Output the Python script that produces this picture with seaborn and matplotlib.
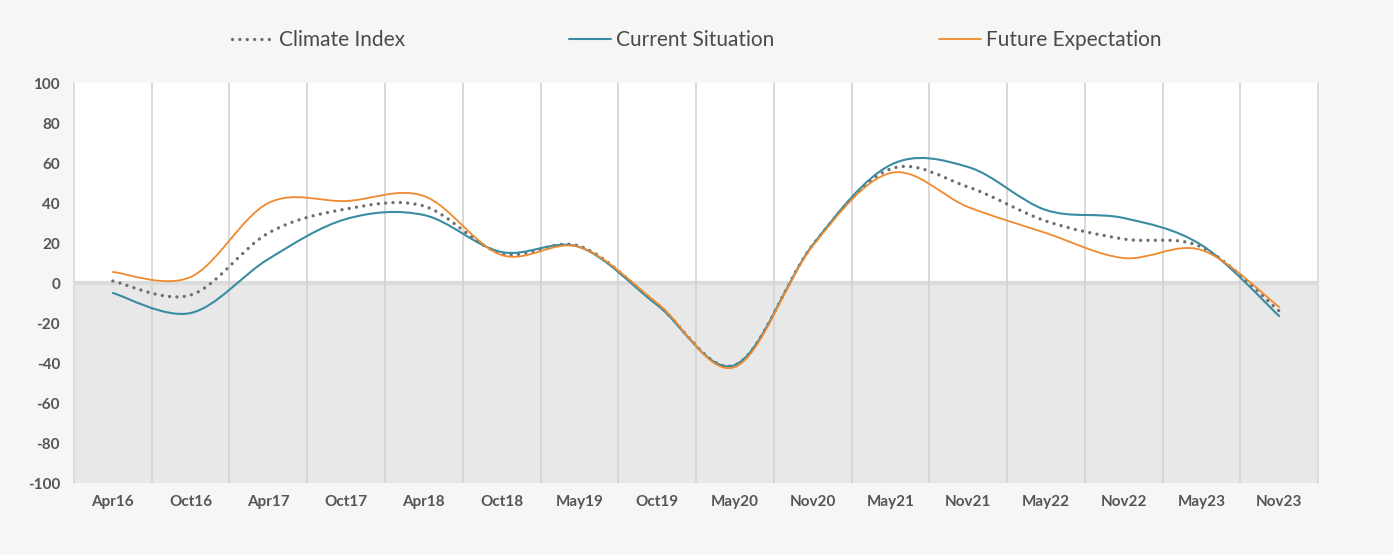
import numpy as np
import pandas as pd
import matplotlib.pyplot as plt
import seaborn as sns
from matplotlib.path import Path
from matplotlib.patches import PathPatch
from matplotlib.lines import Line2D

# survey waves and the three index series
months = ['Apr16', 'Oct16', 'Apr17', 'Oct17', 'Apr18', 'Oct18', 'May19', 'Oct19',
          'May20', 'Nov20', 'May21', 'Nov21', 'May22', 'Nov22', 'May23', 'Nov23']
climate_index = [1, -6, 25, 37, 38.5, 14.7, 18.5, -10.5, -41, 19, 57, 48, 31, 22, 18, -14]
current_situation = [-5, -15, 12, 32, 34, 15.5, 18, -11, -41, 19, 59, 58, 36.5, 32.5, 19, -16.5]
future_expectation = [5.5, 3, 40, 41, 43.5, 14, 18, -10, -42, 18.5, 55, 38, 25, 12.5, 16.5, -12]

y_ticks = list(range(-100, 101, 20))

sns.set_theme(style='white')
plt.rcParams['font.family'] = ['Lato', 'DejaVu Sans']
plt.rcParams['axes.unicode_minus'] = False

df = pd.DataFrame({
    'pos': range(len(months)),
    'Climate Index': climate_index,
    'Current Situation': current_situation,
    'Future Expectation': future_expectation,
})

series = [
    ('Climate Index', '#6e6e6e', 2.4, (0, (0.01, 2.2))),
    ('Current Situation', '#3a8ca2', 1.5, '-'),
    ('Future Expectation', '#f08a2e', 1.3, '-'),
]


def smooth_path(xy):
    # excel style smoothed line: cubic bezier through every point
    pts = np.vstack([xy[:1], xy, xy[-1:]])
    verts = [tuple(xy[0])]
    codes = [Path.MOVETO]
    for i in range(1, len(pts) - 2):
        p0, p1, p2, p3 = pts[i - 1], pts[i], pts[i + 1], pts[i + 2]
        verts += [tuple(p1 + (p2 - p0) / 6), tuple(p2 - (p3 - p1) / 6), tuple(p2)]
        codes += [Path.CURVE4] * 3
    return Path(verts, codes)


fig = plt.figure(figsize=(13.93, 5.55), dpi=100, facecolor='#f6f6f4')
ax = fig.add_axes([0.0531, 0.1297, 0.8931, 0.7207])
ax.set_facecolor('white')

# grey band for negative values, zero line, category separators
ax.axhspan(-100, 0, color='#e8e8e8', zorder=0)
ax.axhline(0, color='#dcdcdc', lw=3, zorder=1)
for k in range(len(months) - 1):
    ax.axvline(k + 0.5, color='#d3d3d3', lw=1.2, zorder=1)

handles = []
for name, color, lw, ls in series:
    sns.lineplot(data=df, x='pos', y=name, ax=ax, color=color, lw=lw, legend=False)
    line = ax.lines[-1]
    patch = PathPatch(smooth_path(line.get_xydata()), facecolor='none', edgecolor=color,
                      lw=lw, linestyle=ls, capstyle='round', zorder=3)
    ax.add_patch(patch)
    line.set_visible(False)
    handles.append(Line2D([], [], color=color, lw=lw, linestyle=ls,
                          dash_capstyle='round'))

ax.set_xlim(-0.5, len(months) - 0.5)
ax.set_ylim(-100, 100)
ax.set_xticks(range(len(months)))
ax.set_xticklabels(months)
ax.set_yticks(y_ticks)
ax.set_xlabel('')
ax.set_ylabel('')
ax.tick_params(axis='both', length=0, labelsize=11, labelcolor='#555555')
ax.tick_params(axis='y', pad=10)
ax.tick_params(axis='x', pad=8.5)
for lab in ax.get_xticklabels() + ax.get_yticklabels():
    lab.set_fontweight('bold')

for side in ['top', 'bottom']:
    ax.spines[side].set_visible(False)
for side in ['left', 'right']:
    ax.spines[side].set_color('#d9d9d9')
    ax.spines[side].set_linewidth(1.2)

fig.legend(handles, [s[0] for s in series], loc='center', bbox_to_anchor=(0.5, 1 - 40 / 555),
           ncol=3, frameon=False, fontsize=15, handlelength=2.0, handletextpad=0.25,
           columnspacing=7.9, labelcolor='#4a4a4a')

fig.savefig('out.png', dpi=100, facecolor=fig.get_facecolor())
